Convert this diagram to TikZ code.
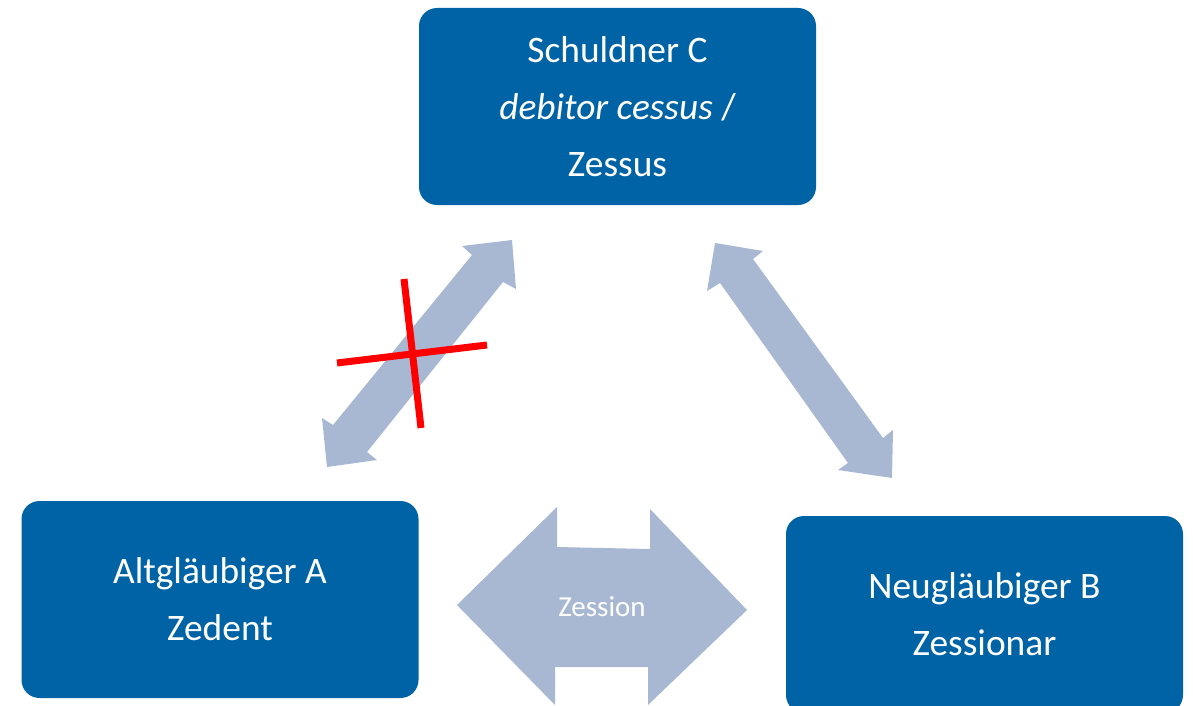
\documentclass[tikz,border=0pt]{standalone}
\usepackage{fontspec}
\setmainfont{Carlito}
\definecolor{boxblue}{RGB}{0,99,166}
\definecolor{arrowblue}{RGB}{169,184,210}
\definecolor{crossred}{RGB}{255,0,0}
\begin{document}
\begin{tikzpicture}[x=1pt,y=-1pt,
  party/.style={fill=boxblue, rounded corners=18pt, minimum width=397pt,
    minimum height=197pt, inner sep=0pt, align=center, text=white,
    font=\fontsize{37.4}{57}\selectfont},
  blockarrow/.style={fill=arrowblue, draw=none},
  strike/.style={draw=crossred, line width=7pt}]
\useasboundingbox (0,0) rectangle (1193,706);
\clip (0,0) rectangle (1193,706);

% parties
\node[party] (C) at (617.5,106.5) {Schuldner C\\\textit{debitor cessus} /\\Zessus};
\node[party] (A) at (220,599.5) {Altgläubiger A\\Zedent};
\node[party] (B) at (984.5,614.5) {Neugläubiger B\\Zessionar};

% double arrow between A and C
\fill[blockarrow] (512,240) -- (516,289) -- (503,282) -- (367,452) -- (377,460)
  -- (327,467) -- (322,418) -- (333,425) -- (472,255) -- (462,246) -- cycle;

% double arrow between C and B
\fill[blockarrow] (715,243) -- (763,251) -- (753,259) -- (883,438) -- (893,430)
  -- (892,478) -- (838,470) -- (848,463) -- (720,283) -- (707,291) -- cycle;

% assignment arrow between A and B
\fill[blockarrow] (457,605) -- (557,507) -- (557,547) -- (650,549) -- (650,509)
  -- (747,610) -- (648,705) -- (648,667) -- (555,667) -- (555,705) -- cycle;
\node[text=white, font=\fontsize{29}{34}\selectfont] (Z) at (602,607) {Zession};

% cross over the A--C relation
\coordinate (x1) at (404,279);
\coordinate (x2) at (421,428);
\coordinate (x3) at (337,363);
\coordinate (x4) at (487,345);
\draw[strike] (x1) -- (x2);
\draw[strike] (x3) -- (x4);
\end{tikzpicture}
\end{document}
